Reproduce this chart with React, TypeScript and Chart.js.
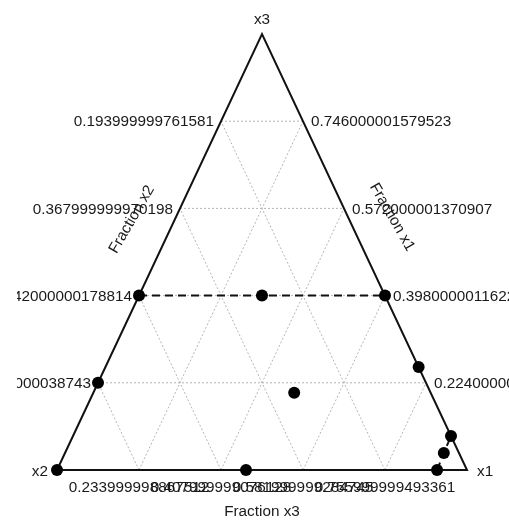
import { useEffect, useRef } from 'react';
import { Chart, registerables } from 'chart.js';

Chart.register(...registerables);

// Mixture design points as fractions of the three components (x1 + x2 + x3 = 1)
const x1Frac = [0, 0, 0, 0.3, 0.6, 0.764, 0.49, 0.922, 0.924, 0.927, 0.461];
const x2Frac = [1, 0.6, 0.8, 0.3, 0, 0, 0.333, 0, 0.037, 0.073, 0.539];
const x3Frac = [0, 0.4, 0.2, 0.4, 0.4, 0.236, 0.177, 0.078, 0.039, 0, 0];

// Runs joined by dashed segments (indices into the design arrays)
const dashedRuns = [
  [1, 3, 4],
  [9, 8, 7],
];

// Grid levels and tick labels along each side
const gridLevels = [0.2, 0.4, 0.6, 0.8];
const x2TickLabels = ['0.71600000038743', '0.542000000178814', '0.367999999970198', '0.193999999761581'];
const x1TickLabels = ['0.224000000953674', '0.398000001162291', '0.572000001370907', '0.746000001579523'];
const x3TickLabels = ['0.233999998867512', '0.407999999076128', '0.581999999284745', '0.755999999493361'];

const vertexNames = ['x1', 'x2', 'x3'];
const axisTitles = ['Fraction x1', 'Fraction x2', 'Fraction x3'];

// barycentric (x1 at lower right, x2 at lower left, x3 at apex) -> plane
const toXY = (a: number, b: number, c: number) => {
  const s = a + b + c;
  return { x: (a + c / 2) / s, y: c / s };
};

const FONT = '15.3px "Liberation Sans", Arial, sans-serif';
const INK = '#1a1a1a';
// text is confined to the figure region, which starts a little inside the left border
const TEXT_LEFT_LIMIT = 17;

const ternaryText = {
  id: 'ternaryText',
  afterDatasetsDraw(chart: any) {
    const { ctx, width, height } = chart;
    const xs = chart.scales.x;
    const ys = chart.scales.y;
    const px = (a: number, c: number) => {
      const p = toXY(a, 1 - a - c, c);
      return [xs.getPixelForValue(p.x), ys.getPixelForValue(p.y)];
    };
    ctx.save();
    ctx.beginPath();
    ctx.rect(TEXT_LEFT_LIMIT, 0, width - TEXT_LEFT_LIMIT, height);
    ctx.clip();
    ctx.fillStyle = INK;
    ctx.font = FONT;
    ctx.textBaseline = 'middle';
    gridLevels.forEach((k, i) => {
      const [lx, ly] = px(0, k);
      ctx.textAlign = 'right';
      ctx.fillText(x2TickLabels[i], lx - 7, ly + 1);
      const [rx, ry] = px(1 - k, k);
      ctx.textAlign = 'left';
      ctx.fillText(x1TickLabels[i], rx + 8, ry + 1);
      const [bx, by] = px(k, 0);
      ctx.textAlign = 'center';
      ctx.fillText(x3TickLabels[i], bx, by + 18);
    });

    // corner names
    const [ax, ay] = px(0, 1);
    ctx.textAlign = 'center';
    ctx.fillText(vertexNames[2], ax, ay - 14);
    const [lx0, ly0] = px(0, 0);
    ctx.textAlign = 'right';
    ctx.fillText(vertexNames[1], lx0 - 9, ly0 + 2);
    const [rx0, ry0] = px(1, 0);
    ctx.textAlign = 'left';
    ctx.fillText(vertexNames[0], rx0 + 10, ry0 + 2);

    // side titles
    ctx.textAlign = 'center';
    const [bx0, by0] = px(0.5, 0);
    ctx.fillText(axisTitles[2], bx0, by0 + 42);

    const [tlx, tly] = px(0, 0.57);
    ctx.save();
    ctx.translate(tlx - 42, tly - 2);
    ctx.rotate(-Math.PI / 3);
    ctx.fillText(axisTitles[1], 0, 0);
    ctx.restore();

    const [trx, try_] = px(0.42, 0.58);
    ctx.save();
    ctx.translate(trx + 44, try_);
    ctx.rotate(Math.PI / 3);
    ctx.fillText(axisTitles[0], 0, 0);
    ctx.restore();

    ctx.restore();
  },
};

function buildDatasets() {
  const ds: any[] = [];
  // dotted reference grid
  gridLevels.forEach((k) => {
    const segs = [
      [toXY(0, 1 - k, k), toXY(1 - k, 0, k)],
      [toXY(k, 1 - k, 0), toXY(k, 0, 1 - k)],
      [toXY(1 - k, k, 0), toXY(0, k, 1 - k)],
    ];
    segs.forEach((seg) =>
      ds.push({
        data: seg,
        showLine: true,
        borderColor: '#b4b4b4',
        borderWidth: 1,
        borderDash: [2, 2],
        pointRadius: 0,
        order: 4,
        clip: false,
      })
    );
  });
  // triangle outline
  ds.push({
    data: [toXY(0, 1, 0), toXY(1, 0, 0), toXY(0, 0, 1), toXY(0, 1, 0)],
    showLine: true,
    borderColor: '#111',
    borderWidth: 2,
    pointRadius: 0,
    order: 3,
    clip: false,
  });
  // dashed runs between design points
  dashedRuns.forEach((run) =>
    ds.push({
      data: run.map((i) => toXY(x1Frac[i], x2Frac[i], x3Frac[i])),
      showLine: true,
      borderColor: '#111',
      borderWidth: 2,
      borderDash: [8, 5],
      pointRadius: 0,
      order: 2,
      clip: false,
    })
  );
  // design points
  ds.push({
    data: x1Frac.map((a, i) => toXY(a, x2Frac[i], x3Frac[i])),
    showLine: false,
    pointRadius: 6,
    pointBackgroundColor: '#000',
    pointBorderColor: '#000',
    pointBorderWidth: 0,
    order: 1,
    clip: false,
  });
  return ds;
}

export default function App() {
  const ref = useRef<HTMLCanvasElement | null>(null);
  useEffect(() => {
    if (!ref.current) return;
    const chart = new Chart(ref.current, {
      type: 'scatter',
      data: { datasets: buildDatasets() },
      options: {
        responsive: false,
        animation: false,
        events: [],
        layout: { padding: { left: 57, right: 42, top: 34, bottom: 51 } },
        scales: {
          x: { type: 'linear', min: 0, max: 1, display: false },
          y: { type: 'linear', min: 0, max: 1, display: false },
        },
        plugins: { legend: { display: false }, tooltip: { enabled: false } },
      },
      plugins: [ternaryText],
    } as any);
    return () => chart.destroy();
  }, []);
  return (
    <div style={{ position: 'fixed', left: 0, top: 0, width: 509, height: 521, background: '#fff' }}>
      <canvas ref={ref} width={509} height={521} style={{ display: 'block' }} />
    </div>
  );
}
